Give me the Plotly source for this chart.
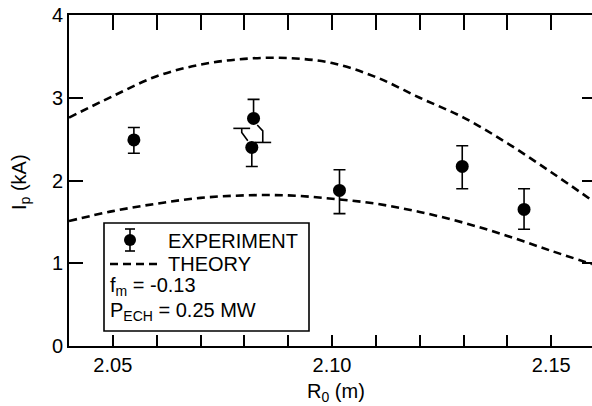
import plotly.graph_objects as go

# ---- data ----
exp_x = [2.0548, 2.0821, 2.0817, 2.1017, 2.1297, 2.1438]
exp_y = [2.49, 2.75, 2.40, 1.88, 2.17, 1.65]
exp_hi = [2.64, 2.98, 2.63, 2.13, 2.42, 1.90]
exp_lo = [2.33, 2.46, 2.17, 1.60, 1.90, 1.41]
# whiskers drawn displaced sideways (to avoid overlapping neighbours)
exp_hi_shift = [0, 0, -0.0023, 0, 0, 0]
exp_lo_shift = [0, 0.0021, 0, 0, 0, 0]

theory_hi_x = [2.04, 2.05, 2.06, 2.07, 2.08, 2.09, 2.10, 2.11, 2.12, 2.13, 2.14, 2.15, 2.1593]
theory_hi_y = [2.76, 3.02, 3.26, 3.40, 3.47, 3.48, 3.42, 3.25, 3.00, 2.76, 2.45, 2.10, 1.76]
theory_lo_x = [2.04, 2.05, 2.06, 2.07, 2.08, 2.09, 2.10, 2.11, 2.12, 2.13, 2.14, 2.15, 2.1593]
theory_lo_y = [1.51, 1.63, 1.72, 1.79, 1.82, 1.82, 1.78, 1.72, 1.62, 1.49, 1.33, 1.15, 0.99]

x_ticks = [2.04, 2.05, 2.06, 2.07, 2.08, 2.09, 2.10, 2.11, 2.12, 2.13, 2.14, 2.15]
x_labels = ["", "2.05", "", "", "", "", "2.10", "", "", "", "", "2.15"]
y_ticks = [0, 1, 2, 3, 4]

# ---- layout geometry (pixels) ----
W, H = 592, 406
L, R, T, B = 69, 0, 15, 60
pw, ph = W - L - R, H - T - B
FONT = "Liberation Sans, Arial, Helvetica, sans-serif"
FS = 20

def px(x):
    return (x - L) / pw

def py(y):
    return (H - B - y) / ph

fig = go.Figure()

for tx, ty in [(theory_hi_x, theory_hi_y), (theory_lo_x, theory_lo_y)]:
    fig.add_trace(go.Scatter(x=tx, y=ty, mode="lines",
                             line=dict(color="black", width=2.6, dash="8px,5px", shape="spline", smoothing=1.0),
                             showlegend=False, hoverinfo="skip"))

# regular (vertical) error bars
err_plus = [(h - y) if s == 0 else 0 for h, y, s in zip(exp_hi, exp_y, exp_hi_shift)]
err_minus = [(y - l) if s == 0 else 0 for l, y, s in zip(exp_lo, exp_y, exp_lo_shift)]
fig.add_trace(go.Scatter(
    x=exp_x, y=exp_y, mode="markers",
    marker=dict(color="black", size=13),
    error_y=dict(type="data", symmetric=False, array=err_plus, arrayminus=err_minus,
                 color="black", thickness=1.6, width=6),
    showlegend=False))

# displaced whiskers
for xi, yi, hi, lo, sh, sl in zip(exp_x, exp_y, exp_hi, exp_lo, exp_hi_shift, exp_lo_shift):
    if sh != 0:
        fig.add_trace(go.Scatter(x=[xi + sh * 0.4, xi + sh, xi + sh], y=[yi + 0.08, yi + 0.18, hi],
                                 mode="lines", line=dict(color="black", width=1.6), showlegend=False, hoverinfo="skip"))
        fig.add_trace(go.Scatter(x=[xi + sh], y=[hi], mode="markers",
                                 marker=dict(symbol="line-ew", size=12, line=dict(color="black", width=1.6)),
                                 showlegend=False, hoverinfo="skip"))
    if sl != 0:
        fig.add_trace(go.Scatter(x=[xi + sl * 0.4, xi + sl, xi + sl], y=[yi - 0.08, yi - 0.15, lo],
                                 mode="lines", line=dict(color="black", width=1.6), showlegend=False, hoverinfo="skip"))
        fig.add_trace(go.Scatter(x=[xi + sl], y=[lo], mode="markers",
                                 marker=dict(symbol="line-ew", size=12, line=dict(color="black", width=1.6)),
                                 showlegend=False, hoverinfo="skip"))

# dummy trace to activate top / right mirror axes
fig.add_trace(go.Scatter(x=[2.05], y=[0], xaxis="x2", yaxis="y2", mode="markers",
                         marker=dict(opacity=0), showlegend=False, hoverinfo="skip"))

fig.update_layout(
    width=W, height=H, margin=dict(l=L, r=R, t=T, b=B),
    paper_bgcolor="white", plot_bgcolor="white",
    font=dict(family=FONT, size=FS, color="black"),
    xaxis=dict(range=[2.04, 2.1593], tickvals=x_ticks, ticktext=x_labels, ticks="inside", ticklen=11,
               tickwidth=1.6, tickcolor="black", showline=True, linecolor="black", linewidth=2,
               showgrid=False, zeroline=False, tickfont=dict(size=FS)),
    xaxis2=dict(range=[2.04, 2.1593], overlaying="x", side="top", anchor="y", tickvals=x_ticks,
                ticks="inside", ticklen=15, tickwidth=1.6, tickcolor="black", showticklabels=False,
                showline=True, linecolor="black", linewidth=2, showgrid=False, zeroline=False),
    yaxis=dict(range=[0, 4], tickvals=y_ticks, ticks="inside", ticklen=14, tickwidth=1.6, tickcolor="black",
               showline=True, linecolor="black", linewidth=2, showgrid=False, zeroline=False,
               tickfont=dict(size=FS)),
    yaxis2=dict(range=[0, 4], overlaying="y", side="right", anchor="x", tickvals=[1, 2, 3],
                ticks="inside", ticklen=10, tickwidth=1.6, tickcolor="black", showticklabels=False,
                showline=False, showgrid=False, zeroline=False),
)

ann = [
    dict(text="R<sub>0</sub> (m)", x=px(336), y=py(392), xanchor="center", yanchor="middle", font=dict(size=FS)),
    dict(text="I<sub>p</sub> (kA)", x=px(20), y=py(182), xanchor="center", yanchor="middle", textangle=-90,
         font=dict(size=FS)),
]

# legend box
bx0, bx1, by0, by1 = 104, 309, 223, 331
shapes = [
    dict(type="rect", xref="paper", yref="paper", x0=px(bx0), x1=px(bx1), y0=py(by1), y1=py(by0),
         line=dict(color="black", width=1.6), fillcolor="white", layer="above"),
    # experiment glyph
    dict(type="circle", xref="paper", yref="paper", x0=px(124), x1=px(136), y0=py(246), y1=py(234),
         fillcolor="black", line=dict(color="black", width=0), layer="above"),
    dict(type="line", xref="paper", yref="paper", x0=px(130), x1=px(130), y0=py(229), y1=py(251),
         line=dict(color="black", width=1.6), layer="above"),
    dict(type="line", xref="paper", yref="paper", x0=px(125), x1=px(135), y0=py(229), y1=py(229),
         line=dict(color="black", width=1.6), layer="above"),
    dict(type="line", xref="paper", yref="paper", x0=px(125), x1=px(135), y0=py(251), y1=py(251),
         line=dict(color="black", width=1.6), layer="above"),
    # theory glyph
    dict(type="line", xref="paper", yref="paper", x0=px(110), x1=px(158), y0=py(264), y1=py(264),
         line=dict(color="black", width=2.6, dash="8px,5px"), layer="above"),
]
leg_txt = [
    ("EXPERIMENT", 166, 241),
    ("THEORY", 166, 264),
    ("f<sub>m</sub> = -0.13", 108, 286),
    ("P<sub>ECH</sub> = 0.25 MW", 108, 311),
]
for t, x0, y0 in leg_txt:
    ann.append(dict(text=t, x=px(x0), y=py(y0), xanchor="left", yanchor="middle", font=dict(size=FS)))

for a in ann:
    a.update(xref="paper", yref="paper", showarrow=False)
fig.update_layout(annotations=ann, shapes=shapes)

fig.write_html("out.html")
